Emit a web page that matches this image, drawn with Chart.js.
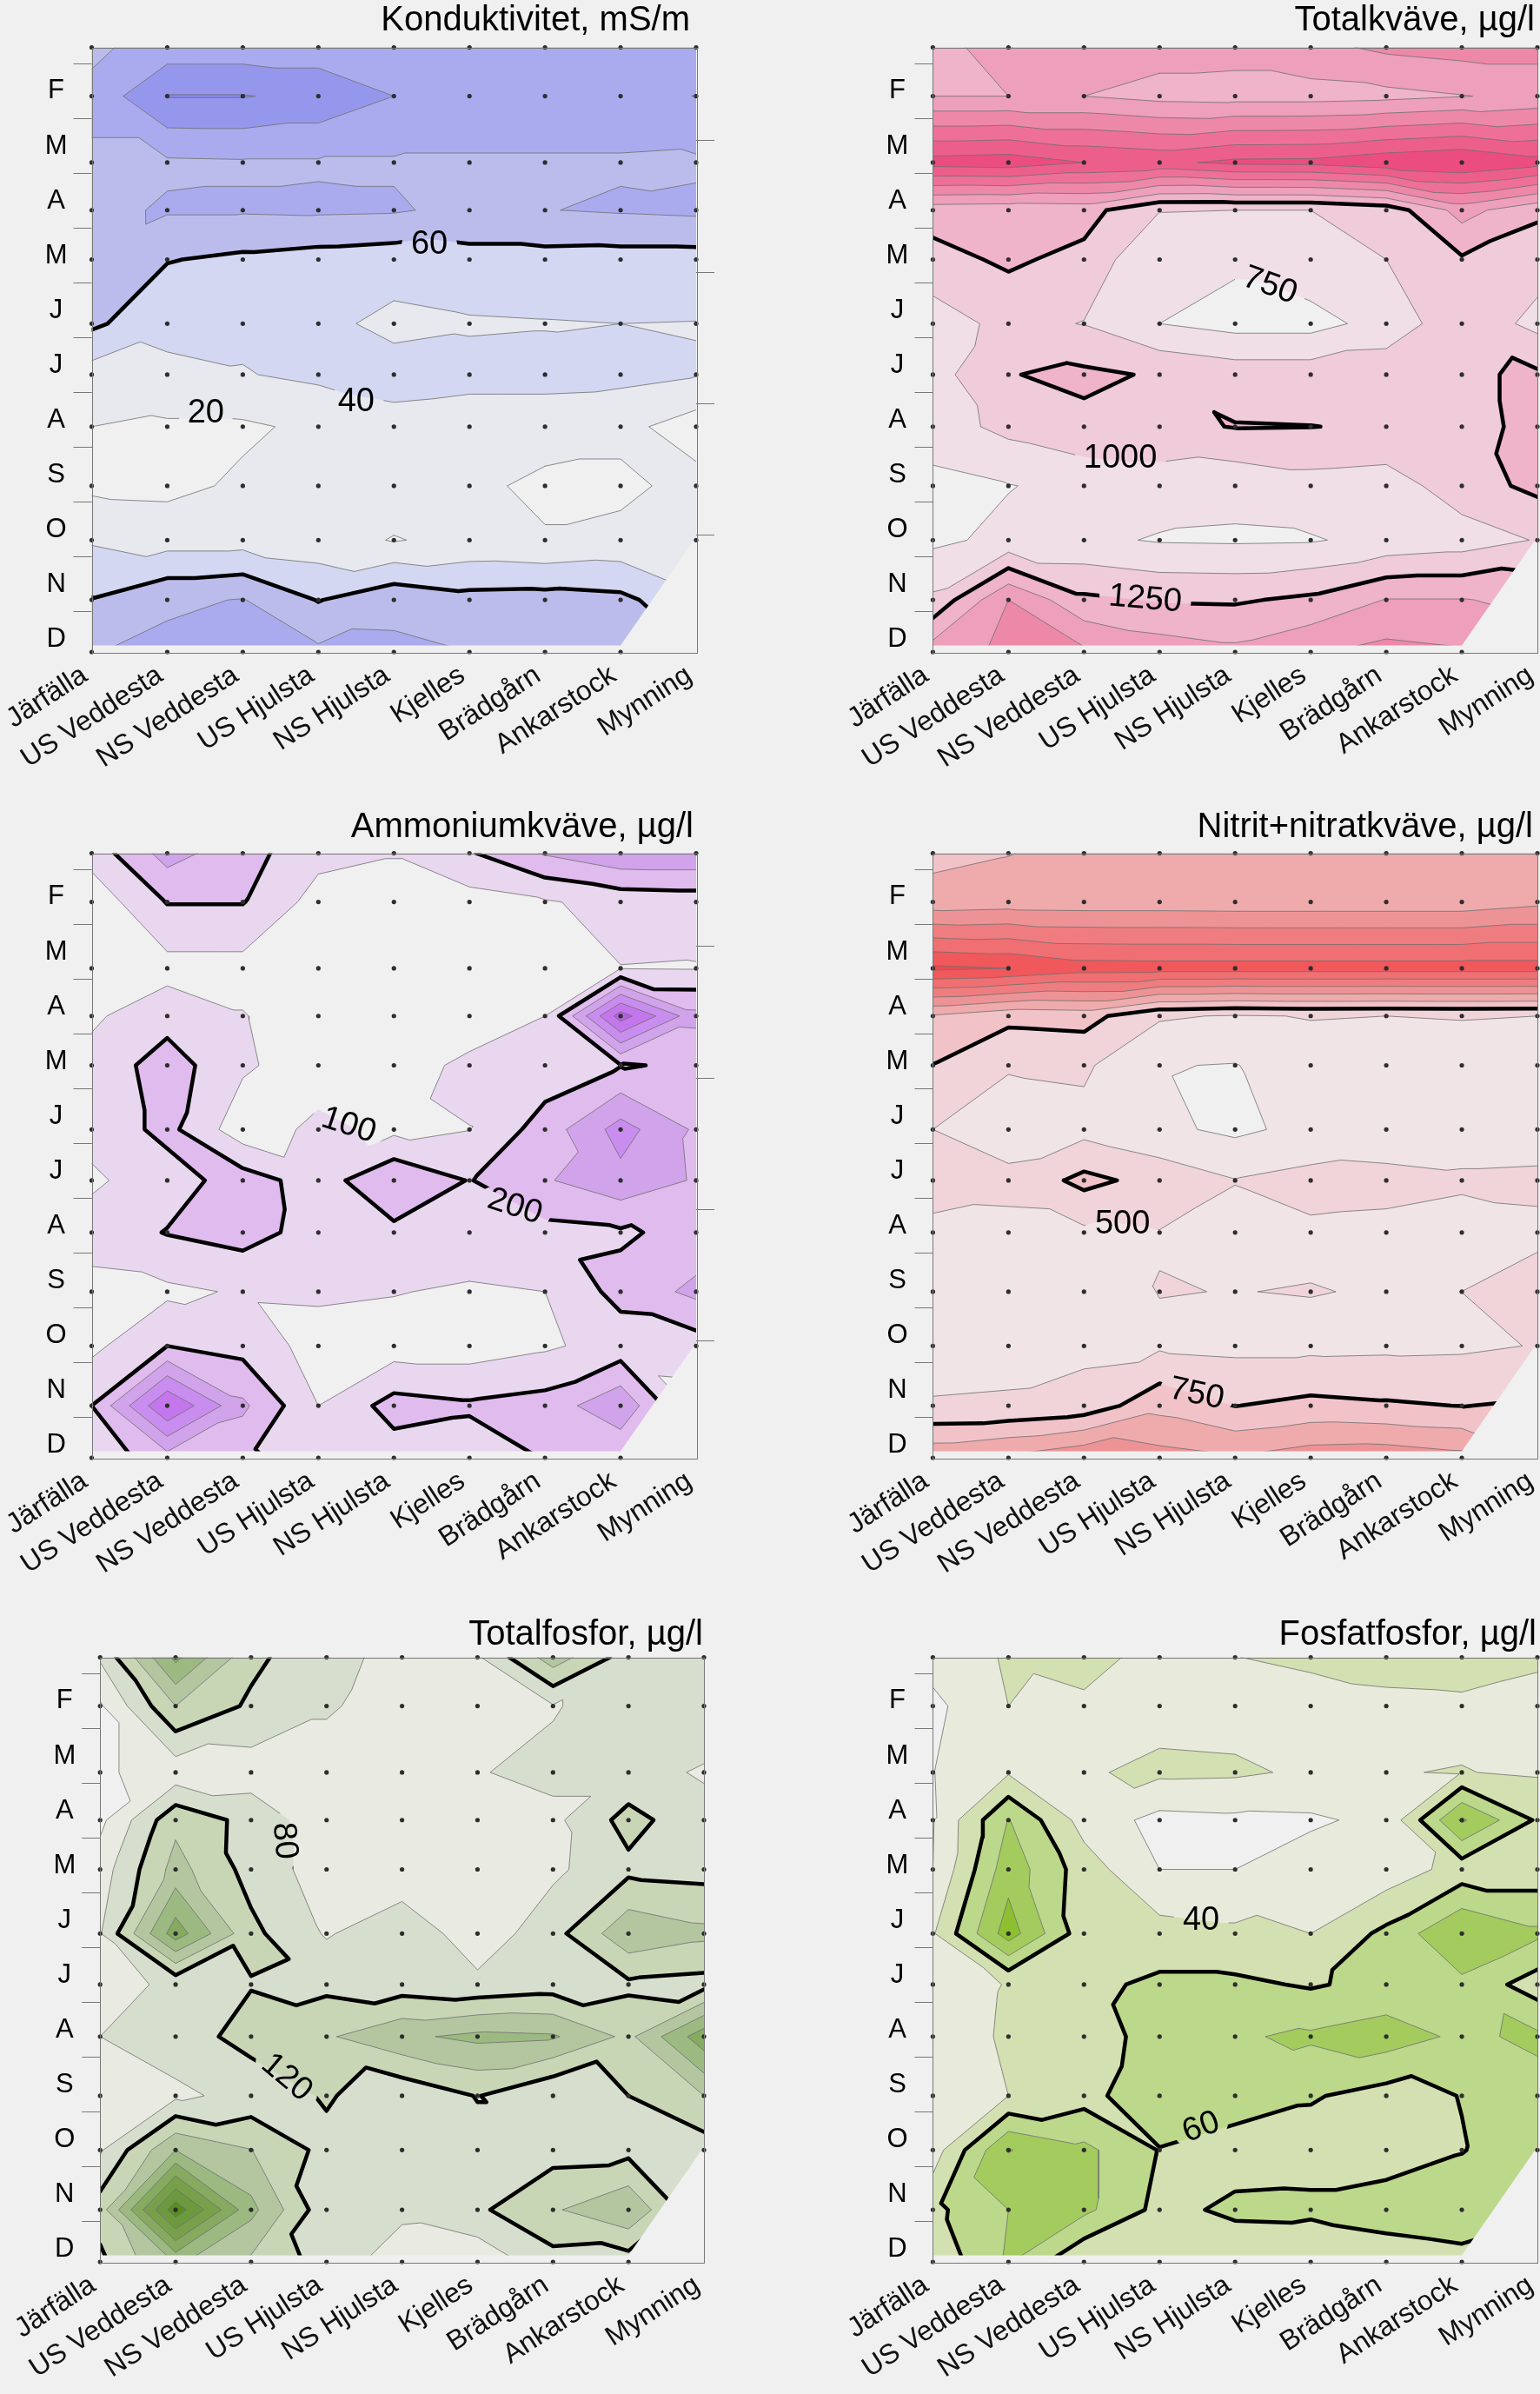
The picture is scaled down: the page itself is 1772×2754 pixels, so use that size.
<!DOCTYPE html>
<html>
<head>
<meta charset="utf-8">
<style>
html, body { margin: 0; padding: 0; background: #f0f0f0; overflow: hidden; }
#page { position: relative; width: 1772px; height: 2754px; overflow: hidden; }
canvas { position: absolute; }
</style>
<script src="https://cdn.jsdelivr.net/npm/chart.js@4/dist/chart.umd.js"></script>
</head>
<body>
<div id="page"></div>
<script>
// Stations along the x axis, sampling dates (in months) down the y axis
var stations = ['Järfälla', 'US Veddesta', 'NS Veddesta', 'US Hjulsta', 'NS Hjulsta', 'Kjelles', 'Brädgårn', 'Ankarstock', 'Mynning'];
var sampleMonths = [0.70, 1.59, 2.80, 3.67, 4.57, 5.74, 6.67, 7.62, 8.70, 9.69, 10.78, 11.73];
var monthLabels = ['F', 'M', 'A', 'M', 'J', 'J', 'A', 'S', 'O', 'N', 'D'];
var monthCentres = [1.5, 2.5, 3.5, 4.5, 5.5, 6.5, 7.5, 8.5, 9.5, 10.5, 11.5];
var monthBounds = [1, 2, 3, 4, 5, 6, 7, 8, 9, 10, 11];
var rightTicks = [2.40, 4.81, 7.20, 9.60];

// Part of the plot without samples (lower right corner and the bottom strip)
var blankX = [0, 7, 8, 8, 0];
var blankY = [11.61, 11.61, 9.63, 11.73, 11.73];

// Values read at the sampling dots, one row per date, one column per station
var konduktivitet = [
  [76, 89, 89, 89, 88, 88, 88, 88, 88],
  [85, 121, 121, 115, 100, 92, 92, 92, 100.5],
  [77, 77, 78, 78, 78, 78, 78, 78, 77],
  [75, 82, 82, 83, 82, 75, 79.5, 82, 84],
  [75, 61, 56, 52, 49, 53, 53, 52, 52],
  [64, 45, 44, 45, 35, 38, 39, 40, 39.5],
  [31, 36, 39, 44, 48, 46, 46, 45, 41],
  [20, 17, 17, 24, 33, 30, 30, 26, 10],
  [16, 15, 23, 30, 30, 25, 15, 15, 27],
  [38, 32, 32, 28, 19, 25, 22, 26, 35],
  [61, 76, 81, 59, 75, 67, 68, 65, 45],
  [79, 86, 95, 84, 83.5, 80, 78, 72, 60]
];
var totalkvave = [
  [1300, 1760, 1600, 1590, 1590, 1680, 1800, 1850, 1850],
  [1500, 1500, 1500, 1420, 1400, 1400, 1430, 1490, 1560],
  [2610, 2640, 2500, 2440, 2560, 2570, 2680, 2750, 2600],
  [1350, 1330, 1350, 1010, 1000, 1000, 1100, 1600, 1300],
  [1170, 1290, 1180, 750, 790, 917, 1000, 1220, 1100],
  [870, 1080, 990, 750, 660, 660, 845, 1170, 930],
  [900, 1240, 1300, 1224, 1140, 1140, 1161, 1210, 1290],
  [880, 1070, 1190, 1190, 1260, 1253, 1230, 1200, 1290],
  [680, 740, 820, 872, 820, 903, 870, 1140, 1310],
  [700, 810, 800, 730, 720, 730, 820, 875, 1015],
  [1046, 1750, 1300, 1230, 1220, 1300, 1510, 1510, 1450],
  [1630, 1800, 1800, 1640, 1560, 1720, 1830, 1780, 1600]
];
var ammoniumkvave = [
  [140, 340, 240, 130, 105, 190, 310, 380, 380],
  [35, 205, 205, 60, 60, 60, 90, 135, 145],
  [35, 65, 65, 60, 40, 40, 98, 98, 95],
  [85, 160, 105, 40, 30, 30, 100, 650, 330],
  [130, 250, 115, 45, 45, 127, 140, 195, 210],
  [130, 230, 40, 125, 75, 98, 245, 440, 285],
  [85, 150, 250, 150, 290, 195, 290, 370, 290],
  [140, 205, 240, 160, 175, 170, 170, 185, 235],
  [70, 80, 110, 115, 105, 85, 100, 235, 325],
  [75, 200, 165, 60, 50, 50, 85, 140, 150],
  [200, 600, 320, 100, 240, 215, 240, 380, 60],
  [130, 260, 220, 150, 150, 140, 205, 205, 100]
];
var nitritNitratkvave = [
  [930, 990, 1100, 1130, 1130, 1130, 1130, 1130, 1130],
  [1100, 1130, 1120, 1120, 1110, 1110, 1110, 1110, 1190],
  [2300, 2250, 2120, 2110, 2110, 2110, 2110, 2110, 2110],
  [975, 820, 850, 530, 480, 510, 500, 510, 500],
  [745, 520, 540, 260, 240, 400, 400, 400, 400],
  [500, 380, 420, 300, 200, 320, 380, 400, 400],
  [620, 560, 820, 660, 510, 580, 560, 530, 540],
  [430, 440, 450, 491, 400, 460, 450, 420, 460],
  [400, 400, 400, 505, 497, 507, 486, 500.5, 580],
  [420, 430, 440, 464, 440, 440, 450, 460, 510],
  [515, 525, 596, 920, 745, 815, 780, 745, 780],
  [1190, 1300, 1460, 1350, 1270, 1390, 1410, 1330, 1000]
];
var totalfosfor = [
  [85, 250, 130, 90, 70, 75, 182, 100, 100],
  [35, 160, 113, 85, 60, 60, 77, 100, 100],
  [35, 55, 60, 60, 78, 78, 90, 90, 77],
  [30, 150, 106, 55, 60, 55, 70, 135, 90],
  [60, 175, 105, 60, 50, 50, 72, 110, 105],
  [78, 262, 130, 76, 110, 55, 105, 190, 170],
  [65, 88, 118, 110, 100, 90, 100, 112, 105],
  [80, 100, 135, 155, 192, 210, 205, 150, 265],
  [60, 72, 93, 125, 88, 122, 79, 120, 160],
  [75, 200, 162, 107, 100, 105, 105, 108, 100],
  [140, 385, 212, 92, 90, 113, 155, 195, 80],
  [110, 208, 152, 105, 55, 50, 105, 100, 40]
];
var fosfatfosfor = [
  [28, 42, 48, 32, 39.5, 46, 48, 50, 44],
  [15, 40, 36, 33, 32, 27, 35, 36, 31],
  [19.5, 38, 38, 44, 43, 37, 39.5, 40.5, 38],
  [19, 81, 32, 14, 16, 17, 25, 103, 57],
  [20, 92, 50, 20, 20, 30, 28, 48, 48],
  [38, 110, 48, 48, 44, 40, 65, 100.5, 84],
  [30, 41, 55, 64, 64, 58, 66, 75, 50],
  [34, 41.5, 50, 68, 78, 83, 90, 76, 84],
  [28, 40, 52, 78, 70, 62, 52, 60.6, 72],
  [30, 101, 85, 59, 51, 50, 50, 59, 75],
  [55, 80, 85, 54, 64, 65, 70, 75, 65],
  [45, 82, 40, 55, 45, 38, 48, 52, 40]
];

// One entry per panel: contour levels, band colours and placement on the page
var panels = [
  { title: 'Konduktivitet, mS/m', grid: konduktivitet, levels: [20, 40, 60, 80, 100, 120], thick: [60],
    colors: ['#e8e8ef', '#d3d7f2', '#bcbcec', '#a9abee', '#9597ed', '#8587e8'],
    notes: [['60', 4.47, 4.30, 0], ['40', 3.50, 7.17, 0], ['20', 1.51, 7.38, 0]],
    left: 0, top: 0, plotLeft: 105.5, titleInset: 7, titleGap: 0, rightAxis: true },
  { title: 'Totalkväve, µg/l', grid: totalkvave, levels: [750, 1000, 1250, 1500, 1750, 2000, 2250, 2500, 2750], thick: [1250],
    colors: ['#f0dfe7', '#f0cbd9', '#efb3ca', '#ee9fbc', '#ee88a9', '#ee7098', '#ed5f8b', '#ec4d80', '#e94078'],
    notes: [['750', 4.46, 5.05, 20], ['1000', 2.48, 8.20, 0], ['1250', 2.81, 10.77, 5]],
    left: 968, top: 0, plotLeft: 105.4, titleInset: 3, titleGap: 0, rightAxis: false },
  { title: 'Ammoniumkväve, µg/l', grid: ammoniumkvave, levels: [100, 200, 300, 400, 500, 600], thick: [200],
    colors: ['#e9d7f0', '#e0bbee', '#d1a3ea', '#c98def', '#c477ec', '#b45fe0'],
    notes: [['100', 3.40, 5.67, 18], ['200', 5.60, 7.15, 18]],
    left: 0, top: 926.9, plotLeft: 105.5, titleInset: 3, titleGap: 1, rightAxis: true },
  { title: 'Nitrit+nitratkväve, µg/l', grid: nitritNitratkvave, levels: [250, 500, 750, 1000, 1250, 1500, 1750, 2000, 2250], thick: [750],
    colors: ['#f0e4e6', '#f0d4d9', '#f1c3c8', '#efaaac', '#ee9395', '#ef7d80', '#f06f72', '#f0585c', '#ee4a50'],
    notes: [['500', 2.51, 7.47, 0], ['750', 3.49, 10.57, 12]],
    left: 968, top: 926.9, plotLeft: 105.4, titleInset: 5, titleGap: 1, rightAxis: false },
  { title: 'Totalfosfor, µg/l', grid: totalfosfor, levels: [40, 80, 120, 160, 200, 240, 280, 320, 360], thick: [120],
    colors: ['#e9ebe3', '#d6dfcd', '#c9d6b6', '#b3c6a0', '#9cb981', '#86aa60', '#78a04a', '#6d9a3e', '#588e20'],
    notes: [['80', 2.44, 4.05, 85], ['120', 2.47, 8.37, 40]],
    left: 10, top: 1852, plotLeft: 105.2, titleInset: 1, titleGap: 5, rightAxis: false },
  { title: 'Fosfatfosfor, µg/l', grid: fosfatfosfor, levels: [20, 40, 60, 80, 100], thick: [60],
    colors: ['#e8ebdc', '#d3e0b1', '#bcd88b', '#a3cb5e', '#8dc030'],
    notes: [['40', 3.55, 5.50, 0], ['60', 3.55, 9.28, -20]],
    left: 968, top: 1852, plotLeft: 105.4, titleInset: 1, titleGap: 5, rightAxis: false }
];

var plotSize = 694.7;
var titleHeight = 54.5;
var bottomHeight = 150;
var rightWidth = 25;
var fontName = '"Liberation Sans", Arial, sans-serif';

// Closed outlines of the region value >= level, from the triangulated grid
function contourLoops(grid, level) {
  var edges = new Map();

  function vertex(i, j) {
    return { key: 'g' + i + '_' + j, x: i, y: sampleMonths[j], v: grid[j][i], cross: false };
  }
  function crossing(a, b) {
    var t = (level - a.v) / (b.v - a.v);
    var key = a.key < b.key ? 'e' + a.key + b.key : 'e' + b.key + a.key;
    return { key: key, x: a.x + (b.x - a.x) * t, y: a.y + (b.y - a.y) * t, cross: true };
  }
  function addEdge(p, q) {
    var reverse = q.key + '>' + p.key;
    if (edges.has(reverse)) {
      edges.delete(reverse); // inner edge shared by two triangles
      return;
    }
    edges.set(p.key + '>' + q.key, { from: p, to: q, iso: p.cross && q.cross });
  }
  function addTriangle(tri) {
    var poly = [];
    tri.forEach(function (a, k) {
      var b = tri[(k + 1) % 3];
      if (a.v >= level) poly.push(a);
      if ((a.v >= level) !== (b.v >= level)) poly.push(crossing(a, b));
    });
    poly.forEach(function (p, k) {
      addEdge(p, poly[(k + 1) % poly.length]);
    });
  }

  // every cell is cut into two triangles along its flattest diagonal
  for (var j = 0; j < grid.length - 1; j++) {
    for (var i = 0; i < stations.length - 1; i++) {
      var a = vertex(i, j), b = vertex(i + 1, j), c = vertex(i + 1, j + 1), d = vertex(i, j + 1);
      if (Math.abs(a.v - c.v) <= Math.abs(b.v - d.v)) {
        addTriangle([a, b, c]);
        addTriangle([a, c, d]);
      } else {
        addTriangle([a, b, d]);
        addTriangle([b, c, d]);
      }
    }
  }

  // edges left over form the outlines, follow them from point to point
  var nextEdge = new Map();
  edges.forEach(function (e) {
    nextEdge.set(e.from.key, e);
  });
  var loops = [];
  while (nextEdge.size > 0) {
    var key = nextEdge.keys().next().value;
    var chain = [];
    while (nextEdge.has(key)) {
      var e = nextEdge.get(key);
      nextEdge.delete(key);
      chain.push(e);
      key = e.to.key;
    }
    var area = 0;
    chain.forEach(function (e) {
      area += e.from.x * e.to.y - e.to.x * e.from.y;
    });
    loops.push({ chain: chain, area: area / 2, level: level });
  }
  return loops;
}

// Splits an outline into the runs that are real contour lines (not plot edges)
function lineRuns(chain) {
  var first = chain.findIndex(function (e) { return !e.iso; });
  if (first < 0) {
    var ring = chain.map(function (e) { return { x: e.from.x, y: e.from.y }; });
    ring.push({ x: chain[0].from.x, y: chain[0].from.y });
    return [ring];
  }
  var runs = [], run = null;
  for (var n = 0; n < chain.length; n++) {
    var e = chain[(first + n) % chain.length];
    if (e.iso) {
      if (!run) {
        run = [{ x: e.from.x, y: e.from.y }];
        runs.push(run);
      }
      run.push({ x: e.to.x, y: e.to.y });
    } else {
      run = null;
    }
  }
  return runs;
}

// Builds the chart datasets for a panel: bands, thin lines, thick lines, blank corner, dots
function buildDatasets(panel) {
  var loops = [];
  panel.levels.forEach(function (level, idx) {
    contourLoops(panel.grid, level).forEach(function (loop) {
      loop.index = idx;
      loops.push(loop);
    });
  });
  // big outlines first so that nested ones are painted over them
  loops.sort(function (p, q) {
    return (Math.abs(q.area) - Math.abs(p.area)) || (p.level - q.level);
  });

  var sets = [];
  loops.forEach(function (loop) {
    var color = loop.area > 0 ? panel.colors[loop.index] : (loop.index > 0 ? panel.colors[loop.index - 1] : '#f0f0f0');
    sets.push({
      data: loop.chain.map(function (e) { return { x: e.from.x, y: e.from.y }; }),
      showLine: true, fill: 'shape', backgroundColor: color, borderWidth: 0, pointRadius: 0, tension: 0
    });
  });

  var thinSets = [], thickSets = [];
  loops.forEach(function (loop) {
    var isThick = panel.thick.indexOf(loop.level) >= 0;
    lineRuns(loop.chain).forEach(function (run) {
      (isThick ? thickSets : thinSets).push({
        data: run, showLine: true, fill: false, contourLine: true, pointRadius: 0, tension: 0,
        borderColor: isThick ? '#000000' : '#6e6e6e', borderWidth: isThick ? 4.5 : 0.8,
        borderJoinStyle: 'round', borderCapStyle: 'round'
      });
    });
  });
  sets = sets.concat(thinSets, thickSets);

  sets.push({
    data: blankX.map(function (x, k) { return { x: x, y: blankY[k] }; }),
    showLine: true, fill: 'shape', backgroundColor: '#f0f0f0', borderWidth: 0, pointRadius: 0, tension: 0
  });

  var dots = [];
  sampleMonths.forEach(function (month, j) {
    stations.forEach(function (name, i) {
      if (i === 8 && j >= 10) return; // no samples at the mouth
      dots.push({ x: i, y: month });
    });
  });
  sets.push({
    data: dots, showLine: false, pointRadius: 2.6, pointBackgroundColor: '#2e2e2e', pointBorderWidth: 0, clip: false
  });

  // later datasets must paint on top, Chart.js paints the highest order first
  sets.forEach(function (set, k) {
    set.order = sets.length - k;
  });
  return sets;
}

// Contour numbers, the gaps they leave in the lines, and the plot frame
function panelPlugin(panel) {
  function notePlace(chart, note) {
    return {
      x: chart.scales.x.getPixelForValue(note[1]),
      y: chart.scales.y.getPixelForValue(note[2]),
      angle: note[3] * Math.PI / 180
    };
  }
  return {
    id: 'panelExtras',
    afterLayout: function (chart) {
      chart.titleBlock.right = chart.chartArea.right - panel.titleInset;
    },
    beforeDatasetDraw: function (chart, args) {
      if (!chart.data.datasets[args.index].contourLine) return;
      var ctx = chart.ctx;
      ctx.save();
      ctx.beginPath();
      ctx.rect(0, 0, chart.width, chart.height);
      panel.notes.forEach(function (note) {
        var p = notePlace(chart, note);
        var halfWidth = note[0].length * 10.5 + 11;
        ctx.moveTo(p.x + halfWidth * Math.cos(p.angle), p.y + halfWidth * Math.sin(p.angle));
        ctx.ellipse(p.x, p.y, halfWidth, 22, p.angle, 0, Math.PI * 2);
      });
      ctx.clip('evenodd');
    },
    afterDatasetDraw: function (chart, args) {
      if (chart.data.datasets[args.index].contourLine) chart.ctx.restore();
    },
    afterDraw: function (chart) {
      var ctx = chart.ctx, area = chart.chartArea;
      ctx.save();
      ctx.strokeStyle = '#777777';
      ctx.lineWidth = 1;
      ctx.strokeRect(Math.round(area.left) + 0.5, Math.round(area.top) + 0.5, Math.round(area.width), Math.round(area.height));
      ctx.fillStyle = '#000000';
      ctx.font = '38px ' + fontName;
      ctx.textAlign = 'center';
      ctx.textBaseline = 'middle';
      panel.notes.forEach(function (note) {
        var p = notePlace(chart, note);
        ctx.save();
        ctx.translate(p.x, p.y);
        ctx.rotate(p.angle);
        ctx.fillText(note[0], 0, 0);
        ctx.restore();
      });
      ctx.restore();
    }
  };
}

function drawPanel(panel) {
  var canvas = document.createElement('canvas');
  var rightSpace = panel.rightAxis ? rightWidth : 4;
  var width = panel.plotLeft + plotSize + rightSpace;
  var height = titleHeight + plotSize + bottomHeight;
  canvas.width = Math.ceil(width);
  canvas.height = Math.ceil(height);
  canvas.style.left = panel.left + 'px';
  canvas.style.top = panel.top + 'px';
  canvas.style.width = canvas.width + 'px';
  canvas.style.height = canvas.height + 'px';
  document.getElementById('page').appendChild(canvas);

  var monthTicks = monthBounds.concat(monthCentres);
  var scales = {
    x: {
      type: 'linear', min: 0, max: 8,
      grid: { display: false },
      border: { display: false },
      ticks: {
        stepSize: 1, autoSkip: false, minRotation: 33, maxRotation: 33, padding: 0, labelOffset: -8, color: '#111111',
        font: { family: fontName, size: 32 },
        callback: function (value) { return stations[value]; }
      },
      afterFit: function (scale) {
        scale.height = bottomHeight;
        scale.paddingLeft = 0;
        scale.paddingRight = 0;
      }
    },
    y: {
      type: 'linear', reverse: true, min: sampleMonths[0], max: sampleMonths[11],
      border: { display: false },
      grid: {
        drawOnChartArea: false, tickLength: 21, tickWidth: 1,
        tickColor: function (ctx) {
          return ctx.tick && monthBounds.indexOf(ctx.tick.value) >= 0 ? '#777777' : 'rgba(0,0,0,0)';
        }
      },
      afterBuildTicks: function (scale) {
        scale.ticks = monthTicks.map(function (v) { return { value: v }; });
      },
      ticks: {
        autoSkip: false, padding: 7, crossAlign: 'center', color: '#000000',
        font: { family: fontName, size: 31 },
        callback: function (value) {
          var k = monthCentres.indexOf(value);
          return k >= 0 ? monthLabels[k] : '';
        }
      },
      afterFit: function (scale) { scale.width = panel.plotLeft; }
    }
  };
  if (panel.rightAxis) {
    scales.y2 = {
      type: 'linear', position: 'right', reverse: true, min: sampleMonths[0], max: sampleMonths[11],
      border: { display: false },
      grid: { drawOnChartArea: false, tickLength: 21, tickWidth: 1, tickColor: '#777777' },
      afterBuildTicks: function (scale) {
        scale.ticks = rightTicks.map(function (v) { return { value: v }; });
      },
      ticks: { display: false },
      afterFit: function (scale) { scale.width = rightWidth; }
    };
  }

  new Chart(canvas.getContext('2d'), {
    type: 'scatter',
    data: { datasets: buildDatasets(panel) },
    options: {
      responsive: false,
      animation: false,
      events: [],
      devicePixelRatio: 1,
      layout: { padding: { right: panel.rightAxis ? 0 : rightSpace } },
      plugins: {
        legend: { display: false },
        tooltip: { enabled: false },
        title: {
          display: true, text: panel.title, align: 'end', fullSize: false, color: '#000000',
          font: { family: fontName, size: 40, weight: 'normal', lineHeight: 1.2 },
          padding: { top: panel.titleGap, bottom: titleHeight - 48 - panel.titleGap }
        }
      },
      scales: scales
    },
    plugins: [panelPlugin(panel)]
  });
}

panels.forEach(drawPanel);
</script>
</body>
</html>
